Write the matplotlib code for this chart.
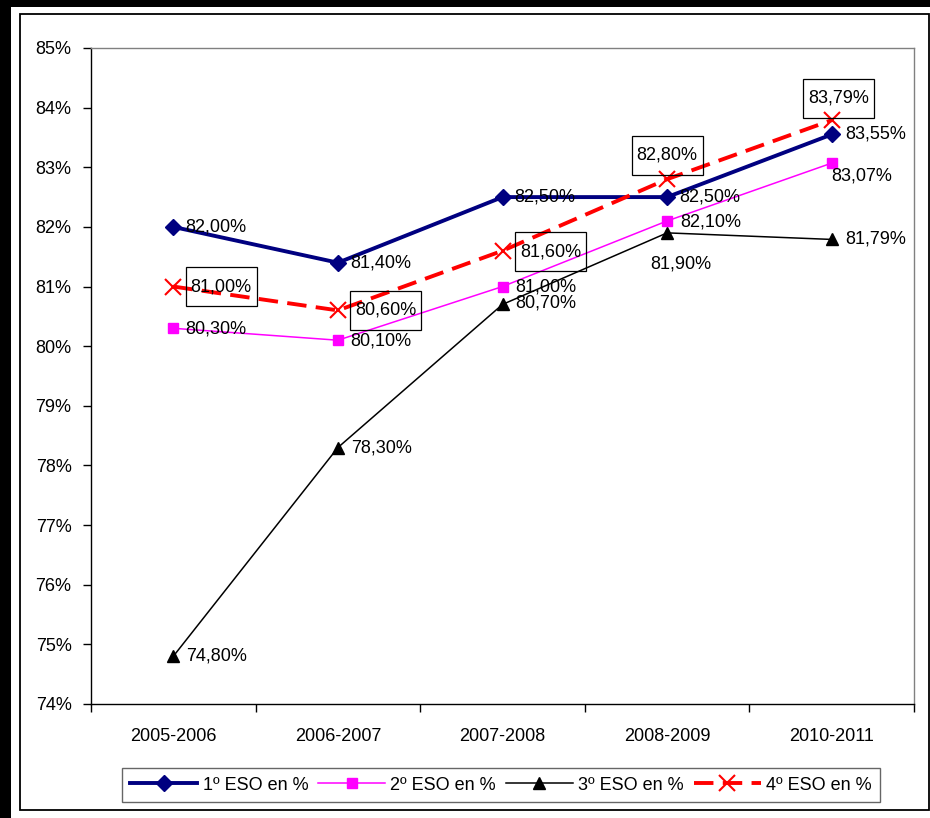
import matplotlib
matplotlib.use("Agg")
import matplotlib.pyplot as plt
from matplotlib.patches import Rectangle
from matplotlib.transforms import IdentityTransform
from matplotlib.ticker import FixedLocator, FuncFormatter

plt.rcParams['font.family'] = ['Liberation Sans', 'DejaVu Sans']
plt.rcParams['font.size'] = 13

cursos = ["2005-2006", "2006-2007", "2007-2008", "2008-2009", "2010-2011"]
eso1 = [82.00, 81.40, 82.50, 82.50, 83.55]
eso2 = [80.30, 80.10, 81.00, 82.10, 83.07]
eso3 = [74.80, 78.30, 80.70, 81.90, 81.79]
eso4 = [81.00, 80.60, 81.60, 82.80, 83.79]
nombres = ["1º ESO en %", "2º ESO en %", "3º ESO en %", "4º ESO en %"]

W, H = 930, 818
fig = plt.figure(figsize=(W / 100, H / 100), dpi=100)
ax = fig.add_axes([91 / W, 1 - 704 / H, (914 - 91) / W, (704 - 48) / H])

x = list(range(len(cursos)))

l1, = ax.plot(x, eso1, color='#000080', lw=2.8, marker='D', ms=8.5, zorder=4)
l2, = ax.plot(x, eso2, color='#FF00FF', lw=1.1, marker='s', ms=7, zorder=3)
l3, = ax.plot(x, eso3, color='black', lw=1.1, marker='^', ms=8, zorder=3)
l4, = ax.plot(x, eso4, color='#FF0000', lw=2.8, marker='x', ms=12, mew=1.5,
              dashes=(5, 2.4), zorder=5)

ax.set_xlim(-0.5, len(cursos) - 0.5)
ax.set_ylim(74, 85)


def pct(v):
    return f"{v:.2f}%".replace('.', ',')


def etiquetas(serie, offsets, box=False):
    for i, v in enumerate(serie):
        dx, dy, h = offsets[i]
        ax.annotate(pct(v), (i, v), xytext=(dx, dy), textcoords='offset pixels',
                    ha=h, va='center', fontsize=13, zorder=6)
        if box:
            # recuadro de 71x39 px centrado en la etiqueta
            px, py = ax.transData.transform((i, v))
            fig.add_artist(Rectangle((px + dx - 35.5, py + dy - 19.5), 71, 39,
                                     transform=IdentityTransform(), fill=False,
                                     ec='black', lw=0.9, zorder=6))


etiquetas(eso1, [(12, 0, 'left')] * 4 + [(14, 0, 'left')])
etiquetas(eso2, [(12, -1, 'left'), (12, -1, 'left'), (13, 0, 'left'),
                 (13, -1, 'left'), (0, -13, 'left')])
etiquetas(eso3, [(13, 0, 'left'), (13, 0, 'left'), (13, 1, 'left'),
                 (14, -31, 'center'), (14, 0, 'left')])
etiquetas(eso4, [(48, 0, 'center'), (48, 0, 'center'), (48, -1, 'center'),
                 (0, 24, 'center'), (7, 22, 'center')], box=True)

# categorías centradas, marcas de división entre ellas
ax.xaxis.set_major_locator(FixedLocator(x))
ax.set_xticklabels(cursos)
ax.xaxis.set_minor_locator(FixedLocator([i - 0.5 for i in range(len(cursos) + 1)]))
ax.tick_params(axis='x', which='major', length=0, pad=17)
ax.tick_params(axis='x', which='minor', length=6, direction='out', width=1)

ax.yaxis.set_major_locator(FixedLocator(range(74, 86)))
ax.yaxis.set_major_formatter(FuncFormatter(lambda v, p: f"{int(v)}%"))
ax.tick_params(axis='y', length=6, direction='out', width=1, pad=8)

for s in ['top', 'right']:
    ax.spines[s].set_color('#808080')
for s in ['left', 'bottom']:
    ax.spines[s].set_color('black')
for s in ax.spines.values():
    s.set_linewidth(1)

leg = fig.legend([l1, l2, l3, l4], nombres, ncol=4, loc='center',
                 bbox_to_anchor=((123 + 879) / 2 / W, 1 - 785 / H),
                 frameon=True, fancybox=False, edgecolor='#404040',
                 handlelength=3.7, columnspacing=0.55, handletextpad=0.3,
                 borderpad=0.45, fontsize=13)
leg.get_frame().set_linewidth(1)

# marco del gráfico y franjas negras del borde
fig.add_artist(Rectangle((20 / W, 1 - 810 / H), (929 - 20) / W, (810 - 14) / H,
                         transform=fig.transFigure, fill=False, ec='black', lw=1.3))
fig.add_artist(Rectangle((0, 0), 11 / W, 1, transform=fig.transFigure,
                         color='black', lw=0))
fig.add_artist(Rectangle((0, 1 - 7 / H), 1, 7 / H, transform=fig.transFigure,
                         color='black', lw=0))

fig.savefig("out.png", dpi=100)
